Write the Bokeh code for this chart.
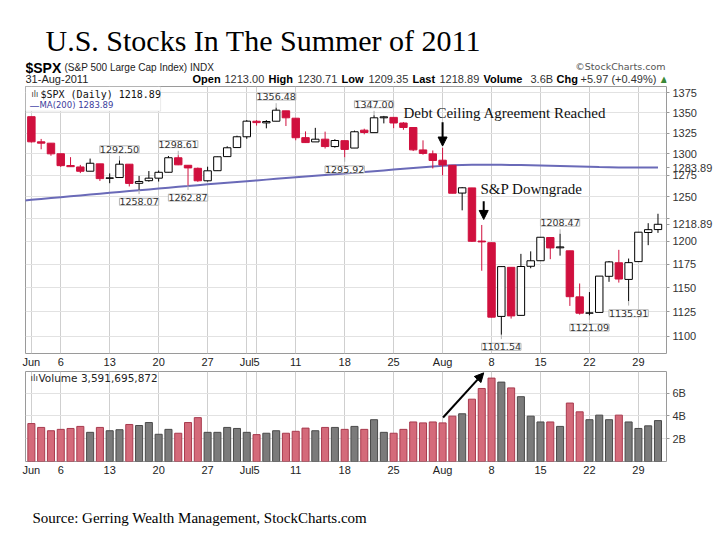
from bokeh.plotting import figure
from bokeh.layouts import column
from bokeh.models import (ColumnDataSource, FixedTicker, Label, LabelSet, Arrow,
                          NormalHead, BoxAnnotation, Range1d, NumeralTickFormatter)
from bokeh.embed import file_html
from bokeh.resources import INLINE
from bokeh.core.properties import value

# ---------------- data ----------------
days = ["Jun 1", "Jun 2", "Jun 3", "Jun 6", "Jun 7", "Jun 8", "Jun 9", "Jun 10", "Jun 13", "Jun 14",
        "Jun 15", "Jun 16", "Jun 17", "Jun 20", "Jun 21", "Jun 22", "Jun 23", "Jun 24", "Jun 27", "Jun 28",
        "Jun 29", "Jun 30", "Jul 1", "Jul 5", "Jul 6", "Jul 7", "Jul 8", "Jul 11", "Jul 12", "Jul 13",
        "Jul 14", "Jul 15", "Jul 18", "Jul 19", "Jul 20", "Jul 21", "Jul 22", "Jul 25", "Jul 26", "Jul 27",
        "Jul 28", "Jul 29", "Aug 1", "Aug 2", "Aug 3", "Aug 4", "Aug 5", "Aug 8", "Aug 9", "Aug 10",
        "Aug 11", "Aug 12", "Aug 15", "Aug 16", "Aug 17", "Aug 18", "Aug 19", "Aug 22", "Aug 23", "Aug 24",
        "Aug 25", "Aug 26", "Aug 29", "Aug 30", "Aug 31"]

opens = [1345.20, 1314.55, 1312.94, 1300.26, 1286.31, 1284.63, 1279.63, 1288.26, 1271.31, 1272.22,
         1287.87, 1265.53, 1268.58, 1271.50, 1278.40, 1295.48, 1286.60, 1283.04, 1268.44, 1280.21,
         1296.85, 1307.64, 1320.64, 1339.59, 1337.56, 1339.62, 1352.39, 1343.31, 1319.61, 1314.45,
         1317.74, 1308.87, 1315.94, 1307.07, 1328.66, 1325.65, 1343.80, 1344.32, 1337.39, 1331.91,
         1304.84, 1300.12, 1292.59, 1286.56, 1254.25, 1260.23, 1200.28, 1198.48, 1120.23, 1171.77,
         1121.30, 1172.87, 1178.86, 1204.22, 1192.89, 1189.62, 1140.47, 1123.55, 1124.36, 1162.16,
         1176.69, 1158.85, 1177.91, 1209.76, 1213.00]
highs = [1345.20, 1318.03, 1312.94, 1300.26, 1296.22, 1287.04, 1294.54, 1288.26, 1277.04, 1292.50,
         1287.87, 1274.11, 1279.82, 1280.42, 1297.62, 1298.61, 1286.60, 1283.93, 1284.91, 1296.80,
         1309.21, 1321.97, 1341.01, 1340.89, 1340.94, 1356.48, 1352.39, 1343.31, 1327.17, 1331.48,
         1326.88, 1317.70, 1315.94, 1328.14, 1330.43, 1347.00, 1346.10, 1344.32, 1338.51, 1331.91,
         1316.32, 1304.16, 1307.38, 1286.56, 1261.20, 1260.23, 1218.11, 1198.48, 1172.88, 1171.77,
         1186.29, 1189.04, 1204.49, 1204.22, 1208.47, 1189.62, 1154.54, 1145.49, 1162.35, 1178.56,
         1190.68, 1181.23, 1210.28, 1220.10, 1230.71]
lows = [1313.71, 1305.61, 1297.90, 1284.72, 1284.74, 1277.42, 1279.63, 1268.28, 1265.64, 1272.22,
        1261.90, 1258.07, 1267.40, 1267.56, 1278.40, 1286.79, 1262.87, 1267.24, 1267.53, 1280.21,
        1296.85, 1307.64, 1318.18, 1334.30, 1330.92, 1339.62, 1333.71, 1316.42, 1313.33, 1314.45,
        1306.51, 1307.52, 1295.92, 1307.07, 1323.65, 1325.65, 1336.95, 1331.09, 1329.10, 1303.49,
        1299.16, 1282.86, 1274.73, 1254.03, 1234.56, 1199.54, 1168.09, 1119.28, 1101.54, 1118.01,
        1121.30, 1170.74, 1178.86, 1180.53, 1184.36, 1131.03, 1122.05, 1121.09, 1124.36, 1156.30,
        1155.47, 1135.91, 1177.91, 1195.77, 1209.35]
closes = [1314.55, 1312.94, 1300.16, 1286.17, 1284.94, 1279.56, 1289.00, 1270.98, 1271.83, 1287.87,
          1265.42, 1267.64, 1271.50, 1278.36, 1295.52, 1287.14, 1283.50, 1268.45, 1280.10, 1296.67,
          1307.41, 1320.64, 1339.67, 1337.88, 1339.22, 1353.22, 1343.80, 1319.49, 1313.64, 1317.72,
          1308.87, 1316.14, 1305.44, 1326.73, 1325.84, 1343.80, 1345.02, 1337.43, 1331.94, 1304.89,
          1300.67, 1292.28, 1286.94, 1254.05, 1260.34, 1200.07, 1199.38, 1119.46, 1172.53, 1120.76,
          1172.64, 1178.81, 1204.49, 1192.76, 1193.89, 1140.65, 1123.53, 1123.82, 1162.35, 1177.60,
          1159.27, 1176.80, 1210.08, 1212.92, 1218.89]
prior_close = 1345.20  # May 31 close

volume_b = [3.33, 2.99, 2.70, 2.82, 2.90, 3.08, 2.56, 2.99, 2.70, 2.79,
            3.25, 3.16, 3.42, 2.39, 2.82, 2.48, 3.42, 3.85, 2.56, 2.56,
            2.99, 2.90, 2.56, 2.36, 2.48, 2.70, 2.48, 2.65, 2.93, 2.70,
            2.99, 2.99, 2.82, 3.08, 2.82, 3.67, 2.56, 2.48, 2.82, 3.47,
            3.39, 3.47, 3.39, 3.98, 4.19, 5.47, 6.41, 7.32, 6.97, 6.46,
            5.69, 3.98, 3.47, 3.47, 3.08, 5.13, 4.36, 3.67, 4.07, 3.67,
            4.07, 3.47, 2.90, 3.13, 3.59]

# 200-day moving average (first value is May 31, just off the left edge)
ma_days = ["May 31"] + days
ma200 = [1245.5, 1246.5, 1247.5, 1248.5, 1249.5, 1250.5, 1251.5, 1252.5, 1253.5, 1254.5, 1255.5,
         1256.5, 1257.5, 1258.5, 1259.5, 1260.5, 1261.5, 1262.4, 1263.4, 1264.4, 1265.3,
         1266.2, 1267.1, 1268.0, 1268.9, 1269.8, 1270.7, 1271.6, 1272.5, 1273.4, 1274.3,
         1275.2, 1276.1, 1277.0, 1277.9, 1278.8, 1279.7, 1280.6, 1281.5, 1282.4, 1283.3,
         1284.2, 1285.1, 1285.9, 1286.5, 1286.9, 1287.1, 1287.2, 1287.2, 1287.1, 1287.0,
         1286.8, 1286.6, 1286.3, 1286.0, 1285.7, 1285.4, 1285.1, 1284.8, 1284.5, 1284.3,
         1284.1, 1284.0, 1283.9, 1283.9, 1283.89]

week_ticks = ["Jun 1", "Jun 6", "Jun 13", "Jun 20", "Jun 27", "Jul 1", "Jul 5", "Jul 11",
              "Jul 18", "Jul 25", "Aug 1", "Aug 8", "Aug 15", "Aug 22", "Aug 29"]
week_labels = ["Jun", "6", "13", "20", "27", "Jul", "5", "11", "18", "25", "Aug", "8", "15", "22", "29"]

price_ticks = [1100, 1125, 1150, 1175, 1200, 1225, 1250, 1275, 1300, 1325, 1350, 1375]
hidden_price_labels = [1225]          # covered by the last-price tag in the original
price_tags = [1218.89, 1283.89]       # last close and MA(200) value shown on the axis
vol_ticks = [2e9, 4e9, 6e9]
vol_tick_labels = ["2B", "4B", "6B"]

high_callout_days = ["Jun 14", "Jun 22", "Jul 7", "Jul 21", "Aug 17"]
low_callout_days = ["Jun 16", "Jun 23", "Jul 18", "Aug 9", "Aug 22", "Aug 26"]

header_parts = ["Open", "1213.00", "High", "1230.71", "Low", "1209.35", "Last", "1218.89",
                "Volume", "3.6B", "Chg", "+5.97 (+0.49%)", "\u25b2"]

# ---------------- derived ----------------
pos = {d: i for i, d in enumerate(days)}
xs = list(range(len(days)))
prev = [prior_close] + closes[:-1]
RED = "#d0103e"
up_day = [c >= pc for c, pc in zip(closes, prev)]
body_fill = [("white" if c >= o else (RED if not u else "black")) for o, c, u in zip(opens, closes, up_day)]
body_line = ["black" if u else RED for u in up_day]
src = ColumnDataSource(dict(x=xs, o=opens, h=highs, l=lows, c=closes,
                            top=[max(o, c) for o, c in zip(opens, closes)],
                            bot=[min(o, c) for o, c in zip(opens, closes)],
                            fill=body_fill, line=body_line))
vsrc = ColumnDataSource(dict(x=xs, v=[b * 1e9 for b in volume_b],
                             fill=["#7b7b7b" if u else "#d46a7a" for u in up_day],
                             line=["#4a4a4a" if u else "#a83a4e" for u in up_day]))
tick_x = [pos[d] for d in week_ticks]
day_overrides = {tx: lab for tx, lab in zip(tick_x, week_labels)}

X0, X1 = -0.6, 64.87
W = 720
FL, FR = 25, 666          # page x of the panel frames (column aligns all frames)
AX_FONT = "Liberation Sans"
GRID_V = "#cfcfcf"
GRID_H = "#e2e2e2"


def text_canvas(height):
    f = figure(width=W, height=height, title=None, x_range=Range1d(FL, FR),
               y_range=Range1d(height, 0), x_axis_location=None, y_axis_location=None,
               output_backend="svg", toolbar_location=None, min_border=0,
               min_border_left=FL, min_border_right=W - FR)
    f.grid.visible = False
    f.outline_line_color = None
    f.background_fill_color = "white"
    f.border_fill_color = "white"
    return f


def style_x_axis(ax):
    ax.ticker = FixedTicker(ticks=tick_x)
    ax.major_label_overrides = day_overrides
    ax.axis_line_color = None
    ax.major_tick_line_color = None
    ax.minor_tick_line_color = None
    ax.major_tick_out = 0
    ax.major_tick_in = 0
    ax.major_label_standoff = 2
    ax.major_label_text_font = AX_FONT
    ax.major_label_text_font_size = "11px"
    ax.major_label_text_color = "#222222"


def style_y_axis(ax):
    ax.axis_line_color = None
    ax.major_tick_out = 3
    ax.major_tick_in = 0
    ax.major_tick_line_color = "#9a9a9a"
    ax.minor_tick_line_color = None
    ax.major_label_standoff = 3
    ax.major_label_text_font = AX_FONT
    ax.major_label_text_font_size = "11px"
    ax.major_label_text_color = "#333333"


# ---------------- header ----------------
hdr = text_canvas(86)
hdr.add_layout(Label(x=45, y=40, text="U.S. Stocks In The Summer of 2011",
                     text_font="Liberation Serif", text_font_size="30px",
                     text_color="#000000", text_baseline="middle"))
hdr.add_layout(Label(x=25, y=67, text="$SPX", text_font=AX_FONT, text_font_size="14px",
                     text_font_style="bold", text_color="#000000", text_baseline="middle"))
hdr.add_layout(Label(x=64, y=67, text="(S&P 500 Large Cap Index) INDX", text_font=AX_FONT,
                     text_font_size="10px", text_color="#222222", text_baseline="middle"))
hdr.add_layout(Label(x=25, y=78.5, text="31-Aug-2011", text_font=AX_FONT,
                     text_font_size="11px", text_color="#222222", text_baseline="middle"))
hdr.add_layout(Label(x=665, y=66, text="\u00a9StockCharts.com", text_font="DejaVu Sans",
                     text_font_size="9.5px", text_color="#555555", text_baseline="middle",
                     text_align="right"))
header_x = [192, 224, 268, 297, 341, 368, 412, 439, 483, 530, 556, 580, 658]
for i, (txt, px) in enumerate(zip(header_parts, header_x)):
    bold = (i % 2 == 0) and txt != "\u25b2"
    hdr.add_layout(Label(x=px, y=78.5, text=txt, text_font=AX_FONT,
                         text_font_size="11px",
                         text_font_style="bold" if bold else "normal",
                         text_color="#000000" if bold else ("#3a8a3a" if txt == "\u25b2" else "#333333"),
                         text_baseline="middle"))

# ---------------- price panel ----------------
p = figure(width=W, height=284, title=None, x_range=Range1d(X0, X1),
           y_range=Range1d(1082.8, 1382.9), y_axis_type="log", y_axis_location="right",
           output_backend="svg", toolbar_location=None,
           min_border_left=FL, min_border_right=W - FR, min_border_top=0, min_border_bottom=15)
p.outline_line_color = "#9a9a9a"
p.background_fill_color = "white"
p.border_fill_color = "white"
p.xgrid.ticker = FixedTicker(ticks=tick_x)
p.xgrid.grid_line_color = GRID_V
p.ygrid.ticker = FixedTicker(ticks=price_ticks)
p.ygrid.grid_line_color = GRID_H

style_y_axis(p.yaxis[0])
p.yaxis.ticker = FixedTicker(ticks=price_ticks + price_tags)
p.yaxis.formatter = NumeralTickFormatter(format="0")
overrides = {t: "" for t in hidden_price_labels}
overrides.update({t: "%.2f" % t for t in price_tags})
p.yaxis.major_label_overrides = overrides
style_x_axis(p.xaxis[0])

# moving average
p.line(x=list(range(-1, len(days))), y=ma200, line_color="#6a6ab8", line_width=2)

# candles
p.segment(x0="x", y0="l", x1="x", y1="h", line_color="line", line_width=1, source=src)
p.vbar(x="x", width=0.76, top="top", bottom="bot", fill_color="fill", line_color="line",
       line_width=1, source=src)

# high / low callouts
hi_x = [pos[d] for d in high_callout_days]
hi_y = [highs[pos[d]] for d in high_callout_days]
lo_x = [pos[d] for d in low_callout_days]
lo_y = [lows[pos[d]] for d in low_callout_days]
p.segment(x0=hi_x, y0=hi_y, x1=hi_x, y1=[v * 1.004 for v in hi_y], line_color="#b0b0b0")
p.segment(x0=lo_x, y0=lo_y, x1=lo_x, y1=[v / 1.004 for v in lo_y], line_color="#b0b0b0")
hi_src = ColumnDataSource(dict(x=hi_x, y=hi_y, text=["%.2f" % v for v in hi_y]))
lo_src = ColumnDataSource(dict(x=lo_x, y=lo_y, text=["%.2f" % v for v in lo_y]))
for s, off in ((hi_src, 11), (lo_src, -12)):
    p.add_layout(LabelSet(x="x", y="y", text="text", source=s, y_offset=off,
                          text_align="center", text_baseline="middle",
                          text_font=value("DejaVu Sans"), text_font_size=value("9.5px"),
                          text_color=value("#333333"),
                          background_fill_color="white", border_line_color="#b5b5b5"))

# legend box top-left (screen units relative to the frame: x from left, y from bottom)
FH = 269
p.add_layout(BoxAnnotation(left=X0, right=13.2, top=1382.9, bottom=1352.0,
                           fill_color="white", fill_alpha=1.0,
                           line_color="#bbbbbb", line_width=1))
p.add_layout(Label(x=6, y=FH - 10, x_units="screen", y_units="screen",
                   text="\u0131l\u0131", text_font="DejaVu Sans",
                   text_font_size="8px", text_color="#333333", text_baseline="middle"))
p.add_layout(Label(x=15, y=FH - 10, x_units="screen", y_units="screen",
                   text="$SPX (Daily) 1218.89", text_font="DejaVu Sans Mono",
                   text_font_size="10px", text_color="#111111", text_baseline="middle"))
p.add_layout(Label(x=4, y=FH - 20.5, x_units="screen", y_units="screen",
                   text="\u2014", text_font="DejaVu Sans",
                   text_font_size="10px", text_color="#4a4aa8", text_baseline="middle"))
p.add_layout(Label(x=14, y=FH - 20.5, x_units="screen", y_units="screen",
                   text="MA(200) 1283.89", text_font="DejaVu Sans",
                   text_font_size="8.5px", text_color="#3c3c9c", text_baseline="middle"))

# annotations
p.add_layout(Label(x=403 - FL, y=FH - (114 - 86), x_units="screen", y_units="screen",
                   text="Debt Ceiling Agreement Reached", text_font="Liberation Serif",
                   text_font_size="15px", text_color="#111111", text_baseline="middle"))
p.add_layout(Label(x=480 - FL, y=FH - (190 - 86), x_units="screen", y_units="screen",
                   text="S&P Downgrade", text_font="Liberation Serif",
                   text_font_size="15px", text_color="#111111", text_baseline="middle"))
p.add_layout(Arrow(end=NormalHead(size=9, fill_color="black", line_color="black"),
                   x_start=pos["Aug 1"], y_start=1338.4, x_end=pos["Aug 1"], y_end=1309.5,
                   line_color="black", line_width=2))
p.add_layout(Arrow(end=NormalHead(size=9, fill_color="black", line_color="black"),
                   x_start=pos["Aug 5"] + 0.2, y_start=1244.8, x_end=pos["Aug 5"] + 0.2, y_end=1224.3,
                   line_color="black", line_width=2))

# ---------------- volume panel ----------------
v = figure(width=W, height=108, title=None, x_range=p.x_range,
           y_range=Range1d(0, 7.9e9), y_axis_location="right",
           output_backend="svg", toolbar_location=None,
           min_border_left=FL, min_border_right=W - FR, min_border_top=1, min_border_bottom=15)
v.outline_line_color = "#9a9a9a"
v.background_fill_color = "white"
v.border_fill_color = "white"
v.xgrid.ticker = FixedTicker(ticks=tick_x)
v.xgrid.grid_line_color = GRID_V
v.ygrid.ticker = FixedTicker(ticks=vol_ticks)
v.ygrid.grid_line_color = GRID_H
style_y_axis(v.yaxis[0])
v.yaxis.ticker = FixedTicker(ticks=vol_ticks)
v.yaxis.major_label_overrides = {t: lab for t, lab in zip(vol_ticks, vol_tick_labels)}
style_x_axis(v.xaxis[0])

v.vbar(x="x", width=0.72, top="v", bottom=0, fill_color="fill", line_color="line",
       line_width=1, source=vsrc)

v.add_layout(Label(x=5, y=84, x_units="screen", y_units="screen",
                   text="\u0131l\u0131", text_font="DejaVu Sans", text_font_size="9px",
                   text_color="#333333", text_baseline="middle"))
v.add_layout(Label(x=13, y=84, x_units="screen", y_units="screen",
                   text="Volume 3,591,695,872", text_font="DejaVu Sans", text_font_size="10.5px",
                   text_color="#222222", text_baseline="middle"))
v.add_layout(Arrow(end=NormalHead(size=9, fill_color="black", line_color="black"),
                   x_start=42.05, y_start=3.86e9, x_end=46.2, y_end=7.78e9,
                   line_color="black", line_width=2))

# ---------------- footer ----------------
ftr = text_canvas(62)
ftr.add_layout(Label(x=32, y=39, text="Source: Gerring Wealth Management, StockCharts.com",
                     text_font="Liberation Serif", text_font_size="15px",
                     text_color="#000000", text_baseline="middle"))

layout = column(hdr, p, v, ftr, spacing=0)
open("out.html", "w").write(file_html(layout, INLINE))
